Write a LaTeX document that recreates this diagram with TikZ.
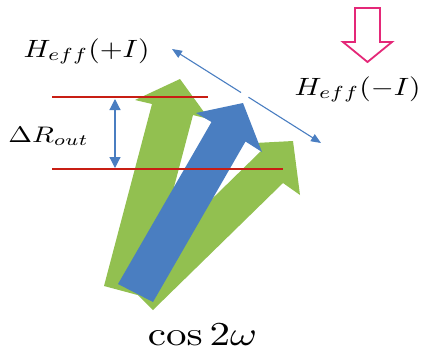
\documentclass[tikz,border=0pt]{standalone}
\usetikzlibrary{arrows.meta}
\definecolor{agreen}{RGB}{146,192,80}
\definecolor{ablue}{RGB}{74,126,193}
\definecolor{aline}{RGB}{200,30,20}
\definecolor{apink}{RGB}{228,40,120}
\tikzset{
  greenarrow/.style={fill=agreen, draw=none},
  bluearrow/.style={fill=ablue, draw=none},
  redline/.style={draw=aline, line width=1.3pt},
  fieldarrow/.style={draw=ablue, line width=1.1pt, -{Triangle[length=10pt,width=8pt]}},
  deltaarrow/.style={draw=ablue, line width=1.2pt, {Triangle[length=11pt,width=11pt]}-{Triangle[length=11pt,width=11pt]}},
  hollow/.style={draw=apink, line width=1.8pt, fill=white, line join=miter},
  lab/.style={anchor=base, inner sep=0pt},
}
\begin{document}
\begin{tikzpicture}[x=1pt,y=-1pt]
\useasboundingbox (0,0) rectangle (422,360);
% green arrows
\path[greenarrow] (104,286) -- (145,297) -- (193,115) -- (209,119) -- (180,79) -- (135,100) -- (152,104) -- cycle;
\path[greenarrow] (126,283) -- (261,151) -- (255,143) -- (293,141) -- (300,195) -- (283,183) -- (153,310) -- cycle;
% blue arrow
\path[bluearrow] (118,284) -- (153,302) -- (245.5,141.5) -- (262,152) -- (243,103) -- (196,113) -- (211.5,122) -- cycle;
% red lines
\coordinate (r1a) at (52,97);  \coordinate (r1b) at (208,97);
\coordinate (r2a) at (52,169); \coordinate (r2b) at (283,169);
\draw[redline] (r1a) -- (r1b);
\draw[redline] (r2a) -- (r2b);
% delta R arrow
\coordinate (dtop) at (115,99);
\coordinate (dbot) at (115,168);
\draw[deltaarrow] (dtop) -- (dbot);
% field arrows
\coordinate (fmid1) at (241,92.5);
\coordinate (fmid2) at (248.5,97.2);
\coordinate (fplus) at (172,49);
\coordinate (fminus) at (321,143);
\draw[fieldarrow] (fmid1) -- (fplus);
\draw[fieldarrow] (fmid2) -- (fminus);
% hollow pink arrow
\path[hollow] (355,8) -- (380,8) -- (380,42) -- (392,42) -- (367.5,62) -- (343,42) -- (355,42) -- cycle;
% labels
\node[lab, xscale=2.95, yscale=2.5] (hplus) at (86.5,57) {$H_{eff}(+I)$};
\node[lab, xscale=2.95, yscale=2.5] (hminus) at (357.5,95) {$H_{eff}(-I)$};
\node[lab, xscale=2.85, yscale=2.25] (dr) at (48.5,142) {$\Delta R_{out}$};
\node[lab, xscale=4.1, yscale=3.35] (cw) at (202.5,345) {$\cos 2\omega$};
\end{tikzpicture}
\end{document}
